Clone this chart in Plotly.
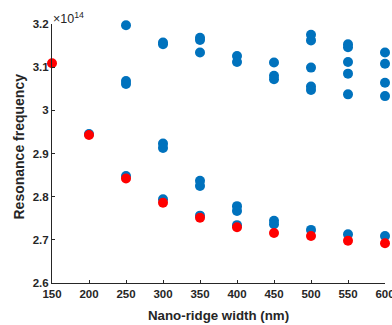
import plotly.graph_objects as go

# Values in units of 1e14 Hz
width_nm_blue = [200,
                 250, 250, 250, 250,
                 300, 300, 300, 300, 300,
                 350, 350, 350, 350, 350, 350,
                 400, 400, 400, 400, 400,
                 450, 450, 450, 450, 450, 450,
                 500, 500, 500, 500, 500, 500,
                 550, 550, 550, 550, 550, 550,
                 600, 600, 600, 600, 600]
freq_blue = [2.945,
             3.197, 3.068, 3.061, 2.848,
             3.157, 3.153, 2.923, 2.913, 2.794,
             3.168, 3.163, 3.134, 2.837, 2.825, 2.756,
             3.126, 3.112, 2.778, 2.767, 2.734,
             3.201, 3.111, 3.080, 3.072, 2.744, 2.736,
             3.175, 3.162, 3.099, 3.055, 3.047, 2.723,
             3.153, 3.146, 3.112, 3.085, 3.037, 2.713,
             3.134, 3.108, 3.064, 3.033, 2.709]

width_nm_red = [150, 200, 250, 300, 350, 400, 450, 500, 550, 600]
freq_red = [3.109, 2.943, 2.842, 2.786, 2.751, 2.729, 2.716, 2.709, 2.698, 2.692]

x_ticks = [150, 200, 250, 300, 350, 400, 450, 500, 550, 600]
y_ticks = [2.6, 2.7, 2.8, 2.9, 3.0, 3.1, 3.2]
y_ticktext = ["2.6", "2.7", "2.8", "2.9", "3", "3.1", "3.2"]

FONT = "Liberation Sans, Arial, sans-serif"
AX = "#262626"

fig = go.Figure()
fig.add_trace(go.Scatter(x=width_nm_blue, y=freq_blue, mode="markers",
                         marker=dict(color="#0072BD", size=10, line=dict(width=0)),
                         cliponaxis=False, showlegend=False))
fig.add_trace(go.Scatter(x=width_nm_red, y=freq_red, mode="markers",
                         marker=dict(color="#FF0000", size=10, line=dict(width=0)),
                         cliponaxis=False, showlegend=False))

fig.update_layout(
    width=392, height=325,
    margin=dict(l=52, r=7, t=24, b=42, autoexpand=False),
    paper_bgcolor="white", plot_bgcolor="white",
    font=dict(family=FONT, color=AX, size=11),
    xaxis=dict(range=[150, 600], tickvals=x_ticks, ticks="inside", ticklen=3,
               tickcolor=AX, showline=True, linecolor=AX, linewidth=1,
               showgrid=False, zeroline=False, automargin=False,
               ticklabeloverflow="allow",
               tickfont=dict(family=FONT, size=11.5, color=AX, weight="bold")),
    yaxis=dict(range=[2.6, 3.2], tickvals=y_ticks, ticktext=y_ticktext,
               ticks="inside", ticklen=3, tickcolor=AX, showline=True,
               linecolor=AX, linewidth=1, showgrid=False, zeroline=False,
               automargin=False, ticklabeloverflow="allow",
               tickfont=dict(family=FONT, size=11.5, color=AX, weight="bold")),
)
# axis titles placed as annotations for exact positioning
fig.add_annotation(xref="paper", yref="paper", x=0.5, y=0, yshift=-32,
                   xanchor="center", yanchor="middle",
                   text="<b>Nano-ridge width (nm)</b>", showarrow=False,
                   font=dict(family=FONT, size=13.3, color=AX))
fig.add_annotation(xref="paper", yref="paper", x=0, xshift=-34, y=0.5, yshift=7,
                   xanchor="center", yanchor="middle", textangle=-90,
                   text="<b>Resonance frequency</b>", showarrow=False,
                   font=dict(family=FONT, size=14, color=AX))
fig.add_annotation(xref="paper", yref="paper", x=0, y=1, xanchor="left",
                   yanchor="bottom", text="×10<sup>14</sup>", showarrow=False,
                   font=dict(family=FONT, size=12.5, color=AX), yshift=-4,
                   xshift=-1)

# remove the default page margin so the 392x325 figure fills the window exactly
fig.write_html("out.html",
               config={"displayModeBar": False},
               post_script="document.body.style.margin='0';"
                           "document.body.style.overflow='hidden';")
